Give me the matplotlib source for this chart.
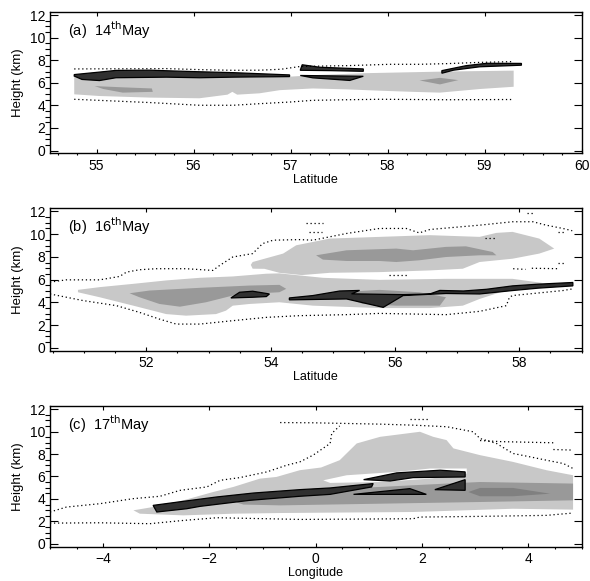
import matplotlib
matplotlib.use('Agg')
import matplotlib.pyplot as plt
from matplotlib.ticker import MultipleLocator

plt.rcParams['font.family'] = ['Liberation Sans', 'DejaVu Sans']

LIGHT = '#c8c8c8'
MID = '#999999'
MID2 = '#808080'
DARK = '#303030'

# ---------- panel (a) 14th May ----------
a_light_x = [54.77, 55.5, 56.0, 56.5, 57.0, 57.3, 57.75, 58.6, 59.3, 59.3, 58.95, 58.54, 58.26, 57.92,
             57.58, 57.23, 56.89, 56.68, 56.45, 56.40, 56.35, 56.06, 55.55, 55.03, 54.77]
a_light_y = [6.65, 6.5, 6.45, 6.45, 6.55, 6.7, 6.85, 7.0, 7.08, 5.65, 5.45, 5.13, 5.2, 5.3,
             5.42, 5.5, 5.35, 5.07, 4.95, 5.2, 4.95, 4.63, 4.69, 4.83, 4.98]
a_mid1_x = [54.98, 55.27, 55.57, 55.58, 55.27, 55.07]
a_mid1_y = [5.71, 5.6, 5.5, 5.2, 5.13, 5.45]
a_mid2_x = [58.33, 58.54, 58.73, 58.54]
a_mid2_y = [6.21, 6.44, 6.24, 5.86]
a_dark1_x = [54.77, 55.03, 55.2, 55.55, 55.79, 56.06, 56.41, 56.99, 56.99, 56.41, 56.06, 55.72, 55.2, 55.03, 54.85, 54.77]
a_dark1_y = [6.73, 6.95, 7.1, 7.12, 7.05, 6.98, 6.9, 6.7, 6.55, 6.5, 6.45, 6.5, 6.45, 6.2, 6.3, 6.6]
a_dark2_x = [57.10, 57.12, 57.3, 57.75, 57.75, 57.41]
a_dark2_y = [7.11, 7.6, 7.38, 7.23, 7.02, 7.08]
a_dark3_x = [57.10, 57.75, 57.61, 57.23]
a_dark3_y = [6.65, 6.58, 6.21, 6.44]
a_dark4_x = [58.56, 58.81, 59.02, 59.38, 59.38, 58.95, 58.68, 58.56]
a_dark4_y = [7.08, 7.52, 7.73, 7.72, 7.56, 7.42, 7.12, 6.85]
a_up_x = [54.77, 55.72, 56.06, 56.41, 56.68, 56.9, 57.10, 57.58, 58.02, 58.33, 58.61, 58.95, 59.30]
a_up_y = [7.23, 7.26, 7.17, 7.11, 7.12, 7.2, 7.45, 7.52, 7.64, 7.64, 7.70, 7.81, 7.88]
a_lo_x = [54.77, 55.55, 56.06, 56.41, 56.68, 57.0, 57.23, 57.58, 57.92, 58.61, 59.30]
a_lo_y = [4.54, 4.25, 4.01, 4.01, 4.15, 4.30, 4.45, 4.5, 4.54, 4.5, 4.52]

# ---------- panel (b) 16th May ----------
b_light1_x = [50.9, 51.25, 51.79, 52.32, 52.86, 53.39, 53.93, 54.14, 54.84, 55.75, 56.82, 57.89, 58.38,
              58.2, 57.7, 57.36, 57.09, 56.56, 55.75, 54.68, 54.14, 53.66, 53.39, 53.28, 53.12, 52.64,
              52.32, 51.79, 51.25, 50.9]
b_light1_y = [5.1, 5.34, 5.63, 5.93, 6.16, 6.28, 6.52, 6.55, 6.16, 5.98, 6.07, 6.07, 5.7,
              5.3, 4.9, 4.3, 3.71, 3.5, 3.5, 3.71, 4.01, 3.86, 3.71, 3.27, 2.97, 2.83,
              2.97, 3.71, 4.45, 4.89]
b_light2_x = [53.71, 53.68, 53.71, 54.2, 54.41, 54.95, 55.75, 56.56, 57.36, 57.63, 57.89, 58.32, 58.56,
              58.32, 57.89, 57.36, 57.09, 56.56, 55.75, 54.95, 54.5, 54.14, 53.9]
b_light2_y = [6.96, 7.3, 7.55, 8.29, 9.02, 9.61, 9.76, 9.91, 9.76, 10.11, 10.2, 9.61, 8.73,
              8.29, 7.84, 7.55, 6.96, 6.81, 6.66, 6.6, 6.4, 6.6, 6.95]
b_mid1_x = [51.73, 52.05, 52.86, 53.66, 54.14, 54.25, 54.14, 53.82, 53.39, 52.96, 52.54, 52.21, 51.89]
b_mid1_y = [4.8, 5.04, 5.28, 5.48, 5.54, 5.19, 4.89, 4.8, 4.6, 4.01, 3.62, 3.86, 4.45]
b_mid2_x = [55.11, 55.75, 56.39, 56.82, 56.72, 56.02, 55.48, 55.22]
b_mid2_y = [4.89, 5.1, 4.89, 4.45, 3.71, 3.71, 3.86, 4.45]
b_mid3_x = [54.73, 55.22, 56.02, 56.29, 56.82, 57.14, 57.57, 57.63, 57.36, 56.82, 56.39, 56.02, 55.75, 55.22, 54.84]
b_mid3_y = [8.14, 8.58, 8.73, 8.58, 8.88, 8.93, 8.43, 8.14, 8.14, 7.99, 7.7, 7.55, 7.64, 7.64, 7.76]
b_dark1_x = [53.36, 53.5, 53.71, 53.98, 53.93, 53.71]
b_dark1_y = [4.39, 4.89, 4.98, 4.74, 4.51, 4.45]
b_dark2_x = [54.3, 54.68, 55.11, 55.43, 55.3, 56.13, 56.56, 56.72, 57.1, 57.47, 57.89, 58.3, 58.86,
             58.86, 58.3, 57.89, 57.36, 56.82, 56.13, 55.81, 55.22, 54.3]
b_dark2_y = [4.39, 4.6, 5.0, 5.05, 4.75, 4.68, 4.74, 5.05, 5.0, 5.15, 5.45, 5.6, 5.75,
             5.45, 5.25, 5.04, 4.74, 4.78, 4.6, 3.56, 4.3, 4.22]
b_up_x = [50.45, 50.71, 51.25, 51.57, 51.68, 51.89, 52.16, 52.64, 53.07, 53.18, 53.39, 53.71, 53.87,
          54.04, 54.46, 54.68, 55.22, 55.75, 56.18, 56.39, 56.56, 57.36, 57.89, 58.22, 58.43, 58.7, 58.85]
b_up_y = [5.78, 5.98, 5.98, 6.28, 6.66, 6.87, 6.96, 6.96, 6.81, 7.25, 7.99, 8.29, 9.17,
          9.47, 9.52, 9.47, 10.06, 10.5, 10.5, 10.11, 10.41, 10.79, 11.09, 11.09, 10.79, 10.5, 10.3]
b_lo_x = [50.45, 50.98, 51.52, 51.89, 52.21, 52.48, 52.86, 53.39, 53.93, 54.46, 55.22, 55.75, 56.82,
          57.36, 57.79, 57.84, 57.89, 58.7, 58.86]
b_lo_y = [4.74, 4.16, 3.71, 3.12, 2.53, 2.09, 2.09, 2.39, 2.68, 2.83, 2.92, 3.03, 2.92,
          3.21, 3.71, 4.45, 4.6, 5.04, 5.19]
b_bits_x = [[54.57, 54.84], [54.62, 54.82], [57.9, 58.1], [58.2, 58.64], [55.9, 56.2], [58.12, 58.22],
            [58.62, 58.72], [58.62, 58.72], [57.45, 57.6]]
b_bits_y = [[10.94, 10.94], [10.2, 10.2], [6.96, 6.9], [7.0, 6.96], [6.37, 6.37], [11.83, 11.83],
            [10.2, 10.2], [7.5, 7.5], [9.7, 9.7]]

# ---------- panel (c) 17th May ----------
c_light_x = [-3.43, -2.99, -2.49, -1.93, -1.55, -1.05, -0.74, -0.3, 0.1, 0.45, 0.77, 1.21, 1.96, 2.21,
             2.46, 2.59, 3.09, 3.4, 3.71, 4.34, 4.84, 4.84, 3.71, 1.83, -0.67, -1.55, -2.49, -3.31]
c_light_y = [2.99, 3.34, 3.88, 4.62, 5.07, 5.81, 5.96, 6.56, 6.8, 7.45, 8.94, 9.53, 9.98, 9.53,
             9.24, 8.5, 7.9, 7.6, 7.3, 6.56, 6.11, 3.05, 3.13, 2.84, 2.75, 2.69, 2.54, 2.69]
c_white_x = [0.14, 0.58, 1.52, 2.15, 2.84, 2.84, 2.15, 1.21, 0.27]
c_white_y = [5.66, 6.11, 6.41, 6.71, 6.71, 6.26, 5.81, 5.51, 5.43]
c_mid1_x = [-1.5, -1.0, -0.67, 0.27, 1.21, 2.46, 3.09, 4.84, 4.84, 3.09, 1.21, -0.67, -1.36]
c_mid1_y = [3.7, 4.2, 4.62, 4.9, 5.07, 5.37, 5.51, 5.37, 3.88, 3.73, 3.58, 3.43, 3.5]
c_mid2_x = [2.87, 3.09, 3.71, 4.41, 3.71, 3.09]
c_mid2_y = [4.62, 4.98, 4.98, 4.47, 4.24, 4.24]
c_dark1_x = [-3.06, -2.49, -1.86, -1.17, -0.3, 0.27, 1.08, 1.05, 0.27, -0.3, -1.24, -2.18, -2.43, -2.99]
c_dark1_y = [3.43, 3.79, 4.18, 4.53, 4.83, 4.98, 5.37, 5.07, 4.41, 4.24, 3.88, 3.34, 3.13, 2.84]
c_dark2_x = [0.9, 1.52, 2.34, 2.81, 2.81, 1.83, 1.4]
c_dark2_y = [5.72, 6.32, 6.56, 6.41, 5.96, 5.9, 5.6]
c_dark3_x = [0.71, 1.77, 2.08]
c_dark3_y = [4.41, 4.92, 4.41]
c_dark4_x = [2.24, 2.81, 2.81]
c_dark4_y = [4.83, 5.72, 4.77]
c_up_x = [-5.0, -4.69, -4.06, -3.43, -2.93, -2.55, -2.05, -1.8, -1.43, -0.92, -0.55, -0.3, -0.05, 0.27, 0.3, 0.45]
c_up_y = [2.84, 3.28, 3.58, 4.03, 4.24, 4.77, 5.07, 5.66, 5.9, 6.41, 7.0, 7.3, 7.9, 8.94, 9.83, 10.5]
c_top_x = [-0.67, -0.05, 0.58, 1.21, 1.83, 2.46, 2.96, 3.09, 3.4, 3.71, 4.03, 4.34, 4.66, 4.84]
c_top_y = [10.8, 10.78, 10.72, 10.66, 10.57, 10.43, 9.98, 9.38, 8.94, 8.05, 7.75, 7.45, 7.15, 6.71]
c_lo_x = [-5.0, -4.06, -3.12, -2.49, -1.86, -0.92, -0.3, 1.83, 1.96, 3.09, 4.34, 4.84]
c_lo_y = [1.85, 1.88, 1.8, 2.09, 2.33, 2.24, 2.18, 2.24, 2.39, 2.45, 2.54, 2.75]
c_bits_x = [[3.09, 3.5, 4.0, 4.47], [4.47, 4.84], [1.77, 2.15]]
c_bits_y = [[9.2, 9.1, 9.05, 9.0], [8.4, 8.35], [11.15, 11.15]]

panels = [
    {'pos': [0.0847, 0.7361, 0.901, 0.2437], 'xlim': (54.52, 60.0), 'major': 1, 'minor': 0.2,
     'label': '(a)  14$^{\\rm th}$May', 'xlabel': 'Latitude',
     'fills': [(a_light_x, a_light_y, LIGHT, False), (a_mid1_x, a_mid1_y, MID, False),
               (a_mid2_x, a_mid2_y, MID, False), (a_dark1_x, a_dark1_y, DARK, True),
               (a_dark2_x, a_dark2_y, DARK, True), (a_dark3_x, a_dark3_y, DARK, True),
               (a_dark4_x, a_dark4_y, DARK, True)],
     'dots': [(a_up_x, a_up_y), (a_lo_x, a_lo_y)]},
    {'pos': [0.0847, 0.3964, 0.901, 0.2456], 'xlim': (50.45, 59.0), 'major': 2, 'minor': 0.5,
     'label': '(b)  16$^{\\rm th}$May', 'xlabel': 'Latitude',
     'fills': [(b_light1_x, b_light1_y, LIGHT, False), (b_light2_x, b_light2_y, LIGHT, False),
               (b_mid1_x, b_mid1_y, MID, False), (b_mid2_x, b_mid2_y, MID, False),
               (b_mid3_x, b_mid3_y, MID, False), (b_dark1_x, b_dark1_y, DARK, True),
               (b_dark2_x, b_dark2_y, DARK, True)],
     'dots': [(b_up_x, b_up_y), (b_lo_x, b_lo_y)] + list(zip(b_bits_x, b_bits_y))},
    {'pos': [0.0847, 0.0590, 0.901, 0.2427], 'xlim': (-5.0, 5.0), 'major': 2, 'minor': 0.5,
     'label': '(c)  17$^{\\rm th}$May', 'xlabel': 'Longitude',
     'fills': [(c_light_x, c_light_y, LIGHT, False), (c_white_x, c_white_y, 'white', False),
               (c_mid1_x, c_mid1_y, MID, False), (c_mid2_x, c_mid2_y, MID2, True),
               (c_dark1_x, c_dark1_y, DARK, True), (c_dark2_x, c_dark2_y, DARK, True),
               (c_dark3_x, c_dark3_y, DARK, True), (c_dark4_x, c_dark4_y, DARK, True)],
     'dots': [(c_up_x, c_up_y), (c_top_x, c_top_y), (c_lo_x, c_lo_y)] + list(zip(c_bits_x, c_bits_y))},
]

fig = plt.figure(figsize=(5.9, 5.81), dpi=100)

for p in panels:
    ax = fig.add_axes(p['pos'])
    for xs, ys, col, edge in p['fills']:
        if edge and col == DARK:
            ax.fill(xs, ys, facecolor=col, edgecolor='black', linewidth=0.9)
        else:
            ax.fill(xs, ys, facecolor=col, edgecolor='none')
    for xs, ys in p['dots']:
        ax.plot(xs, ys, color='black', linewidth=0.9, linestyle=(0, (1, 2.2)))
    ax.set_xlim(*p['xlim'])
    ax.set_ylim(-0.25, 12.3)
    ax.xaxis.set_major_locator(MultipleLocator(p['major']))
    ax.xaxis.set_minor_locator(MultipleLocator(p['minor']))
    ax.yaxis.set_major_locator(MultipleLocator(2))
    ax.yaxis.set_minor_locator(MultipleLocator(0.5))
    ax.tick_params(direction='in', top=True, right=True, labelsize=10, width=0.8)
    ax.tick_params(axis='y', which='major', length=6)
    ax.tick_params(axis='y', which='minor', length=3.5, width=0.8)
    ax.tick_params(axis='x', which='major', length=3, pad=4)
    ax.tick_params(axis='x', which='minor', length=1.5, width=0.8)
    for s in ax.spines.values():
        s.set_linewidth(1)
    ax.set_ylabel('Height (km)', fontsize=9.5, labelpad=4)
    ax.set_xlabel(p['xlabel'], fontsize=9, labelpad=0.5)
    ax.text(0.034, 0.87, p['label'], transform=ax.transAxes, fontsize=10.5, va='center', ha='left')

fig.savefig('out.png', dpi=100)
